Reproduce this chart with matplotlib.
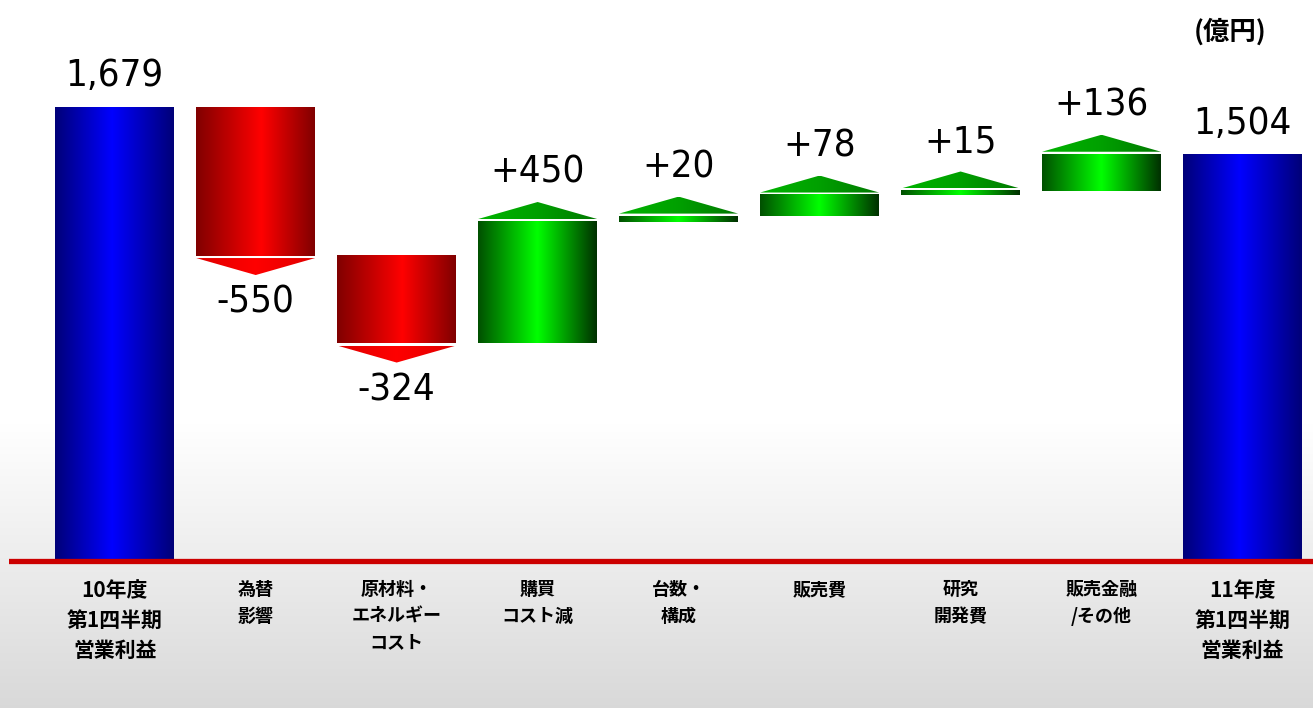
import numpy as np
import matplotlib.pyplot as plt
from matplotlib.colors import LinearSegmentedColormap
from matplotlib.patches import Polygon

# chart data (億円)
categories = [
    "10年度\n第1四半期\n営業利益",
    "為替\n影響",
    "原材料・\nエネルギー\nコスト",
    "購買\nコスト減",
    "台数・\n構成",
    "販売費",
    "研究\n開発費",
    "販売金融\n/その他",
    "11年度\n第1四半期\n営業利益",
]
values = [1679, -550, -324, 450, 20, 78, 15, 136, 1504]
is_total = [True, False, False, False, False, False, False, False, True]
value_labels = ["1,679", "-550", "-324", "+450", "+20", "+78", "+15", "+136", "1,504"]
unit_label = "(億円)"

cjk = ["Noto Sans CJK JP", "DejaVu Sans"]
num_kw = dict(fontsize=27.5, family="DejaVu Sans", fontstretch="condensed")

W, H = 1313, 708
fig = plt.figure(figsize=(W / 100, H / 100), dpi=100)

# background: white fading to light grey at the bottom
bg = fig.add_axes([0, 0, 1, 1], zorder=-5)
bg.axis("off")
rows = np.linspace(0, 1, 400)
shade = np.clip((rows - 0.6) / 0.4, 0, 1)
lum = 1.0 - 0.15 * shade
bg_img = np.repeat(lum[:, None], 2, axis=1)
bg_img = np.dstack([bg_img, bg_img, bg_img])
bg.imshow(bg_img, aspect="auto", extent=[0, 1, 0, 1], origin="upper")
bg.set_xlim(0, 1)
bg.set_ylim(0, 1)

ax = fig.add_axes([9 / W, 0, 1 - 9 / W, 1])
ax.patch.set_alpha(0)
ax.set_xlim(-0.75, 8.5)
ax.set_ylim(-546, 2075)
ax.axis("off")

u_per_px = 3.70  # value units per pixel on the y axis
half_w = 0.422
gap = 2.5 * u_per_px
tri_h = 17 * u_per_px

cm_blue = LinearSegmentedColormap.from_list("b", [(0, "#000078"), (0.48, "#0000ff"), (1, "#000078")])
cm_red = LinearSegmentedColormap.from_list("r", [(0, "#800000"), (0.55, "#ff0000"), (1, "#800000")])
cm_green = LinearSegmentedColormap.from_list("g", [(0, "#005000"), (0.5, "#00ff00"), (1, "#003000")])
cm_tri_g = LinearSegmentedColormap.from_list("tg", ["#00b400", "#00a000", "#007800"])
cm_tri_r = LinearSegmentedColormap.from_list("tr", ["#e00000", "#ff0000", "#e00000"])

grad = np.linspace(0, 1, 256)[None, :]

running = 0
for i, v in enumerate(values):
    if is_total[i]:
        lo, hi = 0, v
        running = v
        cmap = cm_blue
    else:
        lo, hi = sorted([running, running + v])
        running += v
        cmap = cm_green if v > 0 else cm_red
    x0, x1 = i - half_w, i + half_w
    ax.imshow(grad, cmap=cmap, aspect="auto", extent=[x0, x1, lo, hi], zorder=3)

    if is_total[i]:
        ax.annotate(value_labels[i], (i, hi), xytext=(0, 9), textcoords="offset points",
                    ha="center", va="bottom", **num_kw)
        continue

    if v > 0:
        base = hi + gap
        tip = base + tri_h
        tcmap = cm_tri_g
    else:
        base = lo - gap
        tip = base - tri_h
        tcmap = cm_tri_r
    tri = Polygon([[x0, base], [x1, base], [i, tip]], closed=True, facecolor="none",
                  edgecolor="none", transform=ax.transData)
    ax.add_patch(tri)
    img = ax.imshow(grad, cmap=tcmap, aspect="auto",
                    extent=[x0, x1, min(base, tip), max(base, tip)], zorder=3)
    img.set_clip_path(tri)

    if v > 0:
        ax.annotate(value_labels[i], (i, tip), xytext=(0, 8), textcoords="offset points",
                    ha="center", va="bottom", **num_kw)
    else:
        ax.annotate(value_labels[i], (i, tip), xytext=(0, -7), textcoords="offset points",
                    ha="center", va="top", **num_kw)

# base line
ax.axhline(0, color="#cc0000", lw=3.8, zorder=4)

# category labels
for i, lab in enumerate(categories):
    big = is_total[i]
    ax.annotate(lab, (i, 0), xytext=(0, -14), textcoords="offset points",
                ha="center", va="top", multialignment="center",
                fontsize=15 if big else 13, fontweight="bold",
                linespacing=1.52, family=cjk)

fig.text(1230 / W, 1 - 32 / H, unit_label, ha="center", va="center",
         fontsize=19, fontweight="bold", family=cjk)

fig.savefig("out.png", dpi=100)
